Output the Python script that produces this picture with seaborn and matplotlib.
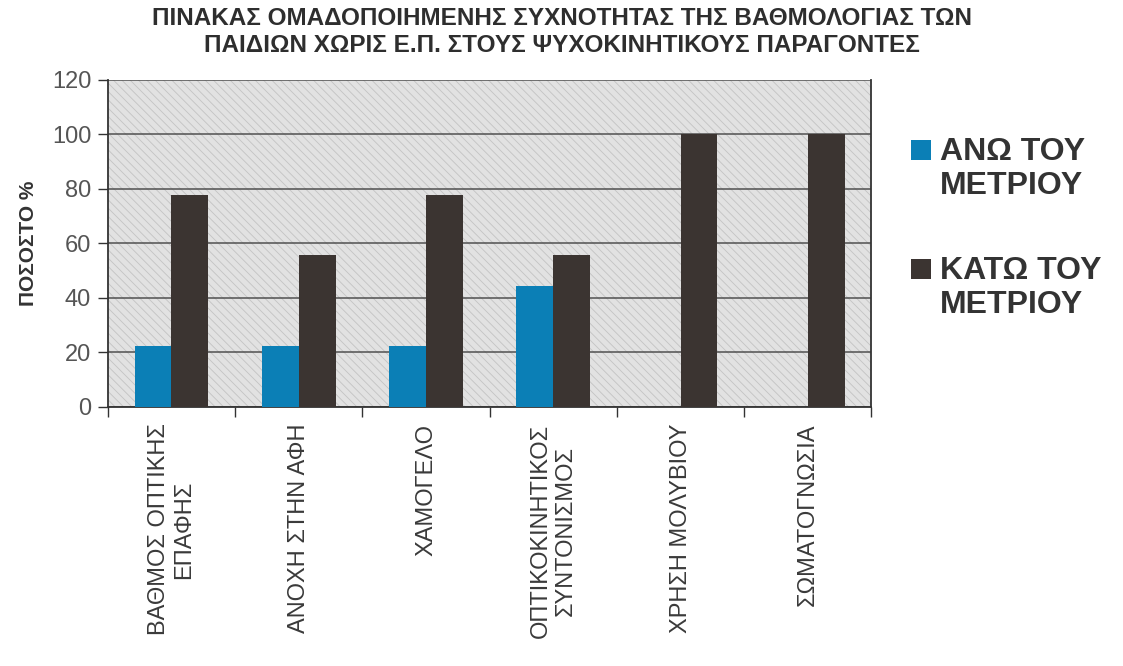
import numpy as np
import pandas as pd
import seaborn as sns
import matplotlib.pyplot as plt
from matplotlib.patches import Rectangle, Patch
from matplotlib.legend_handler import HandlerPatch

categories = ["ΒΑΘΜΟΣ ΟΠΤΙΚΗΣ\nΕΠΑΦΗΣ", "ΑΝΟΧΗ ΣΤΗΝ ΑΦΗ", "ΧΑΜΟΓΕΛΟ",
              "ΟΠΤΙΚΟΚΙΝΗΤΙΚΟΣ\nΣΥΝΤΟΝΙΣΜΟΣ", "ΧΡΗΣΗ ΜΟΛΥΒΙΟΥ", "ΣΩΜΑΤΟΓΝΩΣΙΑ"]
above = [22.2, 22.2, 22.2, 44.4, 0, 0]
below = [77.8, 55.6, 77.8, 55.6, 100, 100]
series = ["ΑΝΩ ΤΟΥ\nΜΕΤΡΙΟΥ", "ΚΑΤΩ ΤΟΥ\nΜΕΤΡΙΟΥ"]
colors = ["#0b7fb6", "#3b3431"]

df = pd.DataFrame({
    "cat": categories * 2,
    "val": above + below,
    "grp": [series[0]] * len(categories) + [series[1]] * len(categories),
})

sns.set_theme(style="white")
plt.rcParams["font.family"] = ["Liberation Sans", "DejaVu Sans"]
plt.rcParams["hatch.linewidth"] = 0.6

fig = plt.figure(figsize=(11.23, 6.66), dpi=100)
ax = fig.add_axes([0.096, 0.389, 0.68, 0.491])

# hatched grey background like the old Excel chart
bg = Rectangle((0, 0), 1, 1, transform=ax.transAxes, facecolor="#e2e2e2",
               edgecolor="#c3c3c3", hatch="\\\\\\\\", lw=0, zorder=0)
ax.add_patch(bg)

sns.barplot(data=df, x="cat", y="val", hue="grp", palette=colors, width=0.58,
            saturation=1, linewidth=0, ax=ax, zorder=3, legend=False)

ax.set_ylim(0, 120)
ax.set_xlim(-0.5, len(categories) - 0.5)
ax.set_yticks(range(0, 121, 20))
ax.yaxis.grid(True, color="#505050", lw=1.1, zorder=1)
ax.set_axisbelow(True)

# ticks at category boundaries, labels at centres
ax.set_xticks(np.arange(-0.5, len(categories), 1))
ax.set_xticklabels([])
ax.set_xticks(range(len(categories)), minor=True)
ax.set_xticklabels(categories, minor=True, rotation=90, fontsize=17,
                   color="#3a3a3a", multialignment="center", va="top")
ax.tick_params(axis="x", which="major", direction="out", length=7, width=1, color="#333333", bottom=True)
ax.tick_params(axis="x", which="minor", length=0, pad=12)
ax.tick_params(axis="y", direction="out", length=7, width=1, color="#333333", left=True,
               labelsize=17, labelcolor="#555555", pad=5)

for s in ["left", "bottom", "right"]:
    ax.spines[s].set_color("#333333")
    ax.spines[s].set_linewidth(1.3)
ax.spines["top"].set_visible(False)

ax.set_xlabel("")
ax.set_ylabel("ΠΟΣΟΣΤΟ %", fontsize=15, fontweight="bold", color="#333333", labelpad=10)

fig.text(0.5, 0.99,
         "ΠΙΝΑΚΑΣ ΟΜΑΔΟΠΟΙΗΜΕΝΗΣ ΣΥΧΝΟΤΗΤΑΣ ΤΗΣ ΒΑΘΜΟΛΟΓΙΑΣ ΤΩΝ\n"
         "ΠΑΙΔΙΩΝ ΧΩΡΙΣ Ε.Π. ΣΤΟΥΣ ΨΥΧΟΚΙΝΗΤΙΚΟΥΣ ΠΑΡΑΓΟΝΤΕΣ",
         ha="center", va="top", fontsize=17.5, fontweight="bold", color="#2e2e2e",
         linespacing=1.25)


def top_square(legend, orig_handle, xdescent, ydescent, width, height, fontsize):
    # put the square next to the first line of the two-line label
    return Rectangle((-xdescent, -ydescent + 0.6 * fontsize), width, height)


handles = [Patch(facecolor=c, edgecolor="none") for c in colors]
leg = fig.legend(handles, series, loc="upper left", bbox_to_anchor=(0.786, 0.838),
                 frameon=False, handlelength=0.6, handleheight=0.6,
                 handletextpad=0.3, labelspacing=1.7,
                 handler_map={Patch: HandlerPatch(patch_func=top_square)},
                 prop={"size": 23, "weight": "bold"})
for t in leg.get_texts():
    t.set_color("#333333")

plt.savefig("out.png", dpi=100)
